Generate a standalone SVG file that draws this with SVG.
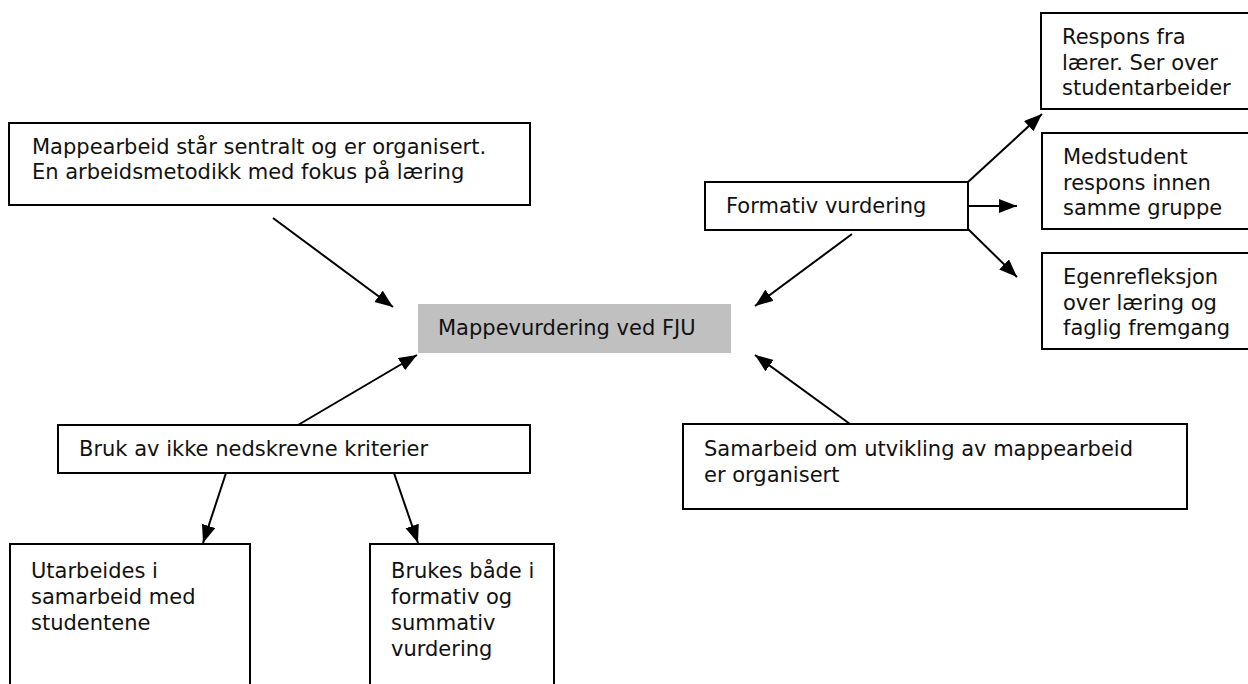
<svg xmlns="http://www.w3.org/2000/svg" width="1248" height="684" viewBox="0 0 1248 684">
  <defs>
    <marker id="arrow" markerUnits="userSpaceOnUse" markerWidth="20" markerHeight="16" refX="18" refY="7" orient="auto">
      <path d="M0,0 L18,7 L0,14 z" fill="#000"/>
    </marker>
    <style>
      .box { fill: #fff; stroke: #000; stroke-width: 2; }
      .hub { fill: #c0c0c0; stroke: none; }
      .lbl { font-family: "DejaVu Sans", Verdana, sans-serif; font-size: 21px; fill: #111; }
      .edge { stroke: #000; stroke-width: 2; fill: none; marker-end: url(#arrow); }
    </style>
  </defs>
  <rect width="1248" height="684" fill="#fff"/>

  <!-- connectors -->
  <g id="connectors">
    <line class="edge" x1="273" y1="218" x2="393" y2="307"/>
    <line class="edge" x1="852" y1="234" x2="755" y2="306"/>
    <line class="edge" x1="298" y1="425" x2="417" y2="355"/>
    <line class="edge" x1="850" y1="424" x2="755" y2="355"/>
    <line class="edge" x1="968" y1="182" x2="1042" y2="114"/>
    <line class="edge" x1="968" y1="206" x2="1017" y2="206"/>
    <line class="edge" x1="968" y1="229" x2="1017" y2="277"/>
    <line class="edge" x1="226" y1="473" x2="203" y2="543"/>
    <line class="edge" x1="394" y1="473" x2="418" y2="543"/>
  </g>

  <!-- central node -->
  <g id="node-hub">
    <rect class="hub" x="418" y="304" width="313" height="49"/>
    <text class="lbl" x="438" y="335">Mappevurdering ved FJU</text>
  </g>

  <g id="node-mappearbeid">
    <rect class="box" x="9" y="123" width="521" height="82"/>
    <text class="lbl" x="32" y="154">Mappearbeid står sentralt og er organisert.</text>
    <text class="lbl" x="32" y="179">En arbeidsmetodikk med fokus på læring</text>
  </g>

  <g id="node-formativ">
    <rect class="box" x="705" y="182" width="263" height="48"/>
    <text class="lbl" x="726" y="213">Formativ vurdering</text>
  </g>

  <g id="node-respons">
    <rect class="box" x="1041" y="13" width="215" height="96"/>
    <text class="lbl" x="1062" y="44">Respons fra</text>
    <text class="lbl" x="1062" y="70">lærer. Ser over</text>
    <text class="lbl" x="1062" y="95">studentarbeider</text>
  </g>

  <g id="node-medstudent">
    <rect class="box" x="1042" y="133" width="214" height="96"/>
    <text class="lbl" x="1063" y="164">Medstudent</text>
    <text class="lbl" x="1063" y="190">respons innen</text>
    <text class="lbl" x="1063" y="215">samme gruppe</text>
  </g>

  <g id="node-egenrefleksjon">
    <rect class="box" x="1042" y="253" width="214" height="96"/>
    <text class="lbl" x="1063" y="284">Egenrefleksjon</text>
    <text class="lbl" x="1063" y="310">over læring og</text>
    <text class="lbl" x="1063" y="335">faglig fremgang</text>
  </g>

  <g id="node-bruk">
    <rect class="box" x="58" y="425" width="472" height="48"/>
    <text class="lbl" x="79" y="456">Bruk av ikke nedskrevne kriterier</text>
  </g>

  <g id="node-samarbeid">
    <rect class="box" x="683" y="424" width="504" height="85"/>
    <text class="lbl" x="704" y="456">Samarbeid om utvikling av mappearbeid</text>
    <text class="lbl" x="704" y="482">er organisert</text>
  </g>

  <g id="node-utarbeides">
    <rect class="box" x="10" y="544" width="240" height="160"/>
    <text class="lbl" x="31" y="578">Utarbeides i</text>
    <text class="lbl" x="31" y="604">samarbeid med</text>
    <text class="lbl" x="31" y="630">studentene</text>
  </g>

  <g id="node-brukes">
    <rect class="box" x="370" y="544" width="184" height="160"/>
    <text class="lbl" x="391" y="578">Brukes både i</text>
    <text class="lbl" x="391" y="604">formativ og</text>
    <text class="lbl" x="391" y="630">summativ</text>
    <text class="lbl" x="391" y="656">vurdering</text>
  </g>
</svg>
